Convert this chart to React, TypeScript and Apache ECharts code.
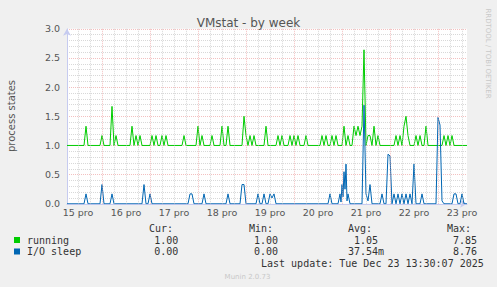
import React, { useEffect, useRef } from 'react';
import * as echarts from 'echarts';

// ---- data (hours counted from 15 Dec 00:00, hourly samples) ----
const TITLE = 'VMstat - by week';
const Y_NAME = 'process states';
const X_MIN = 6.5;
const X_MAX = 206.5;
const STEP = 1;

const dayLabels = ['15 pro', '16 pro', '17 pro', '18 pro', '19 pro', '20 pro', '21 pro', '22 pro', '23 pro'];
const dayNoonHours = [12, 36, 60, 84, 108, 132, 156, 180, 204];
const midnightHours = [24, 48, 72, 96, 120, 144, 168, 192];
const sixHourHours = [12, 18, 30, 36, 42, 54, 60, 66, 78, 84, 90, 102, 108, 114, 126, 132, 138, 150, 156, 162, 174, 180, 186, 198, 204];

const runningBase = 1.0;
const runningSpikes: [number, number][] = [
  [16, 1.33], [24, 1.17], [29, 1.67], [31, 1.17], [39, 1.33], [41, 1.17], [43, 1.17],
  [49, 1.17], [51, 1.17], [54, 1.17], [56, 1.17], [65, 1.17], [72, 1.33], [74, 1.17],
  [79, 1.17], [84, 1.33], [87, 1.33], [95, 1.5], [96, 1.17], [98, 1.17], [100, 1.17],
  [106, 1.33], [112, 1.17], [114, 1.17], [118, 1.17], [120, 1.17], [122, 1.17],
  [126, 1.17], [134, 1.17], [136, 1.17], [139, 1.17], [141, 1.17],
  [145, 1.33], [147, 1.17], [150, 1.33], [151, 1.17], [152, 1.33], [153, 1.17], [154, 1.33],
  [155, 2.64], [157, 1.17], [158, 1.17], [160, 1.33], [162, 1.17],
  [171, 1.17], [173, 1.17], [175, 1.33], [176, 1.5], [177, 1.17], [181, 1.17], [183, 1.17],
  [186, 1.33], [195, 1.17], [197, 1.17], [199, 1.17],
];

const ioBase = 0;
const ioSpikes: [number, number][] = [
  [16, 0.17], [24, 0.33], [29, 0.17], [45, 0.33], [48, 0.17], [68, 0.17], [69, 0.17],
  [75, 0.17], [87, 0.17], [94, 0.33], [95, 0.33], [102, 0.17], [105, 0.17], [108, 0.17],
  [109, 0.1], [110, 0.17], [138, 0.17], [143, 0.17], [143.5, 0.03], [144, 0.33], [144.5, 0.12],
  [145, 0.55], [145.5, 0.25], [146, 0.68], [146.5, 0.05], [147, 0.17],
  [155, 1.69], [156, 0.17], [157, 0.05], [158, 0.33], [164, 0.17], [167, 0.85],
  [168, 0.82], [170, 0.17], [172, 0.17], [174, 0.17], [176, 0.17], [178, 0.17], [180, 0.68],
  [184, 0.17], [192, 1.48], [193, 1.35], [194, 0.05], [200, 0.17], [201, 0.17], [204, 0.17],
];

const legendNames = ['running', 'I/O sleep'];
const legendColors = ['#00cc00', '#0066b3'];
const colHeaders = ['Cur:', 'Min:', 'Avg:', 'Max:'];
const curValues = ['1.00', '0.00'];
const minValues = ['1.00', '0.00'];
const avgValues = ['1.05', '37.54m'];
const maxValues = ['7.85', '8.76'];
const LAST_UPDATE = 'Last update: Tue Dec 23 13:30:07 2025';
const VERSION = 'Munin 2.0.73';
const WATERMARK = 'RRDTOOL / TOBI OETIKER';

// ---- styles ----
const AXIS_COLOR = '#c6cbf0';
const MAJOR_GRID = 'rgba(235,150,150,0.6)';
const MINOR_GRID = 'rgba(190,190,190,0.6)';
const SANS = 'DejaVu Sans';
const MONO = 'DejaVu Sans Mono';

function buildSeries(base: number, spikes: [number, number][]) {
  const map = new Map<number, number>(spikes.map(([t, v]) => [t, v]));
  const times = new Set<number>([X_MIN, X_MAX, ...spikes.map((s) => s[0])]);
  for (let t = Math.ceil(X_MIN); t <= Math.floor(X_MAX); t += STEP) times.add(t);
  return Array.from(times)
    .sort((a, b) => a - b)
    .map((t) => [t, map.has(t) ? (map.get(t) as number) : base]);
}

function txt(text: string, x: number, y: number, opts: any = {}) {
  const align = opts.align || 'left';
  const valign = opts.valign || 'middle';
  return {
    type: 'text',
    x,
    y,
    rotation: opts.rotation || 0,
    silent: true,
    style: {
      text,
      fill: opts.color || '#333',
      fontSize: opts.size || 10,
      fontFamily: opts.family || MONO,
      align,
      verticalAlign: valign,
      textAlign: align,
      textVerticalAlign: valign,
    },
  };
}

function gridSeries(hours: number[], color: string) {
  return {
    type: 'line',
    data: [[X_MIN, 0]],
    symbol: 'none',
    silent: true,
    z: 1,
    lineStyle: { opacity: 0 },
    markLine: {
      silent: true,
      symbol: ['none', 'none'],
      label: { show: false },
      emphasis: { disabled: true },
      lineStyle: { color, type: [1, 1], width: 1 },
      data: hours.map((v) => ({ xAxis: v })),
    },
  };
}

export default function App() {
  const ref = useRef<HTMLDivElement>(null);

  useEffect(() => {
    if (!ref.current) return;
    const chart = echarts.init(ref.current, undefined, { renderer: 'svg' });

    const rowY = [240, 251.5];
    const headerX = [149, 249, 348, 447];
    const colRight = [178.3, 278, 378, 477];
    const graphics: any[] = [];

    colHeaders.forEach((h, i) => graphics.push(txt(h, headerX[i], 228.5)));
    legendNames.forEach((name, r) => {
      graphics.push({
        type: 'rect',
        silent: true,
        shape: { x: 14, y: rowY[r] - 3, width: 6, height: 6 },
        style: { fill: legendColors[r] },
      });
      graphics.push(txt(name, 27, rowY[r]));
      const cols = [curValues[r], minValues[r], avgValues[r], maxValues[r]];
      cols.forEach((val, c) => {
        const m = /^([0-9.]+)([a-zA-Z]?)$/.exec(val);
        const num = m ? m[1] : val;
        const unit = m ? m[2] : '';
        graphics.push(txt(num, colRight[c], rowY[r], { align: 'right' }));
        if (unit) graphics.push(txt(unit, colRight[c], rowY[r]));
      });
    });
    graphics.push(txt(LAST_UPDATE, 261, 263.7));
    graphics.push(txt(VERSION, 247.5, 276.5, { align: 'center', family: SANS, size: 7, color: '#c8c8c8' }));
    graphics.push(txt(WATERMARK, 488, 53.5, { align: 'center', family: SANS, size: 7, color: '#c8c8c8', rotation: -Math.PI / 2 }));
    graphics.push(txt(Y_NAME, 11, 116, { align: 'center', family: SANS, size: 10, color: '#555', rotation: Math.PI / 2 }));

    const option: any = {
      animation: false,
      backgroundColor: '#f0f0f0',
      title: {
        text: TITLE,
        left: 'center',
        top: 12,
        textStyle: { fontFamily: SANS, fontSize: 12, fontWeight: 'normal', color: '#555' },
      },
      grid: {
        left: 67,
        top: 28.8,
        width: 400,
        height: 175,
        show: true,
        backgroundColor: '#ffffff',
        borderWidth: 0,
      },
      xAxis: {
        type: 'value',
        min: X_MIN,
        max: X_MAX,
        axisLine: {
          show: true,
          onZero: false,
          lineStyle: { color: AXIS_COLOR, width: 1 },
          symbol: ['none', 'arrow'],
          symbolSize: [6, 7],
        },
        axisTick: { show: false },
        splitLine: { show: false },
        axisLabel: {
          customValues: dayNoonHours,
          formatter: (v: number) => {
            const i = dayNoonHours.indexOf(v);
            return i >= 0 ? dayLabels[i] : '';
          },
          margin: 4,
          fontFamily: SANS,
          fontSize: 9.5,
          color: '#555',
          hideOverlap: false,
        },
      },
      yAxis: {
        type: 'value',
        min: 0,
        max: 3,
        interval: 0.5,
        axisLine: {
          show: true,
          lineStyle: { color: AXIS_COLOR, width: 1 },
          symbol: ['none', 'arrow'],
          symbolSize: [6, 7],
        },
        axisTick: { show: false },
        axisLabel: {
          formatter: (v: number) => v.toFixed(1),
          margin: 7,
          fontFamily: SANS,
          fontSize: 9.5,
          color: '#555',
        },
        splitLine: { show: true, lineStyle: { color: MAJOR_GRID, type: [1, 1], width: 1 } },
        minorTick: { show: false, splitNumber: 5 },
        minorSplitLine: { show: true, lineStyle: { color: MINOR_GRID, type: [1, 1], width: 1 } },
      },
      graphic: graphics,
      series: [
        gridSeries(sixHourHours, MINOR_GRID),
        gridSeries(midnightHours, MAJOR_GRID),
        {
          name: legendNames[0],
          type: 'line',
          data: buildSeries(runningBase, runningSpikes),
          symbol: 'none',
          z: 3,
          lineStyle: { color: legendColors[0], width: 1 },
          emphasis: { disabled: true },
        },
        {
          name: legendNames[1],
          type: 'line',
          data: buildSeries(ioBase, ioSpikes),
          symbol: 'none',
          z: 4,
          lineStyle: { color: legendColors[1], width: 1 },
          emphasis: { disabled: true },
        },
      ],
    };

    chart.setOption(option);
    return () => chart.dispose();
  }, []);

  return (
    <div
      ref={ref}
      style={{ position: 'fixed', left: 0, top: 0, width: 497, height: 287 }}
    />
  );
}
